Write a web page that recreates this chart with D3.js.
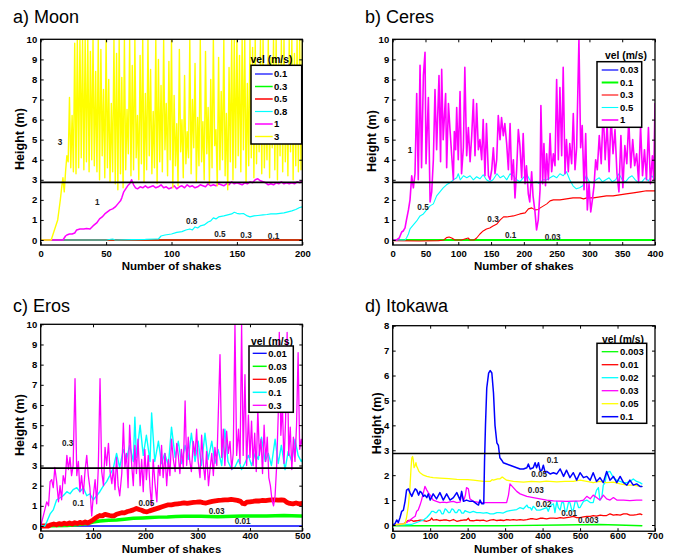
<!DOCTYPE html>
<html><head><meta charset="utf-8">
<script src="https://cdn.jsdelivr.net/npm/d3@7"></script>
<style>
body{margin:0;background:#fff}
svg{display:block;font-family:"Liberation Sans",Arial,Helvetica,sans-serif}
</style>
</head><body>
<script>
// ================= DATA =================
const thresholdHeight = 2.87;

// ---- a) Moon ----
const moonVels = ["0.1","0.3","0.5","0.8","1","3"];
const moon01 = [[0,0],[200,0]];
const moon03 = [[0,0],[200,0]];
const moon05 = [[0,0],[200,0]];
const moon08 = [[0,0],[50,0],[55,0.05],[57,0],[70,0.02],[80,0.03],[88,0.05],[90,0.05],[92,0.2],[95,0.25],[100,0.3],[104,0.38],[108,0.42],[111,0.5],[114,0.55],[116,0.5],[118,0.65],[120,0.6],[122,0.7],[125,0.75],[128,0.9],[130,0.95],[132,1.1],[134,1.05],[136,1.15],[140,1.2],[143,1.25],[146,1.3],[148,1.38],[150,1.33],[152,1.3],[155,1.32],[158,1.2],[160,1.15],[163,1.2],[166,1.22],[170,1.25],[173,1.27],[176,1.3],[180,1.3],[183,1.33],[186,1.35],[189,1.4],[192,1.45],[195,1.52],[198,1.62],[200,1.65]];
const moon1 = [[0,0],[17,0],[18,0.1],[19,0.2],[20,0.25],[22,0.3],[24,0.3],[26,0.35],[27.5,0.5],[30,0.55],[33,0.55],[35,0.57],[37.7,0.55],[40,0.7],[42.8,0.85],[45,1.05],[47,1.15],[49,1.3],[51,1.4],[53,1.5],[55,1.55],[57,1.65],[59,1.8],[61,1.95],[62,2.1],[63.5,2.4],[65,2.55],[66.5,2.7],[68,2.8],[69.5,3.0],[71,2.75],[72.5,2.6],[74,2.55],[76,2.65],[78,2.6],[80,2.7],[82,2.6],[84,2.65],[86,2.7],[88,2.6],[90,2.65],[92,2.75],[94,2.6],[96,2.65],[98,2.55],[100,2.6],[102,2.7],[104,2.55],[106,2.65],[108,2.7],[110,2.6],[112,2.75],[114,2.65],[116,2.7],[118,2.6],[120,2.65],[122,2.75],[124,2.7],[126,2.65],[128,2.8],[130,2.7],[132,2.75],[134,2.7],[136,2.8],[138,2.75],[140,2.7],[142,2.8],[144,2.75],[146,2.9],[148,2.8],[150,2.85],[152,2.8],[154,2.75],[156,2.85],[158,2.8],[160,2.9],[162,2.85],[164,3.0],[166,3.05],[168,2.95],[170,2.9],[172,2.85],[174,2.75],[176,2.8],[178,2.75],[180,2.85],[182,2.8],[184,2.9],[186,2.8],[188,2.85],[190,2.8],[192,2.85],[194,2.8],[196,2.9],[198,2.85],[200,2.95]];
// one height per shake, shakes 0..200
const moon3Heights = [
 0,0,0,0,0,0,0,0,0,0.2,
 0.4,0.6,0.8,1.0,1.5,2.0,2.6,3.1,2.4,3.4,
 4.2,3.9,7.1,3.6,6.2,3.4,9.8,3.3,10,3.6,
 10,4.1,10,3.5,10,3.9,10,3.4,9.4,4.0,
 10,3.7,8.4,3.4,10,3.0,9.5,4.2,7.5,3.1,
 10,3.6,8.0,2.9,6.8,3.4,10,2.8,9.3,2.5,
 10,3.3,8.1,2.6,10,3.5,6.5,4.3,10,3.2,
 8.7,3.5,10,4.1,6.2,3.0,9.2,3.8,10,2.9,
 7.3,3.5,10,4.2,8.5,3.3,6.4,3.6,10,2.8,
 9.0,3.9,7.7,3.4,10,4.5,6.8,3.2,8.9,4.0,
 10,2.6,7.2,3.7,5.8,2.7,9.5,4.4,6.0,3.1,
 8.2,3.8,5.4,4.1,10,3.3,7.0,4.6,8.8,2.9,
 6.1,3.7,10,3.9,5.9,3.0,9.4,4.3,6.6,2.8,
 8.0,3.6,10,4.7,5.5,2.7,9.1,3.5,7.4,4.0,
 10,3.2,6.3,2.5,8.6,3.9,10,3.0,10,3.6,
 10,4.2,9.2,3.4,10,4.5,10,2.9,7.8,3.7,
 10,4.1,9.6,3.1,10,3.8,8.3,4.4,10,3.3,
 10,3.6,7.2,4.0,10,3.1,9.1,4.6,10,3.5,
 10,3.0,8.8,4.2,10,3.4,10,3.9,7.5,3.2,
 10,4.4,10,3.0,9.3,3.7,10,3.4,10,3.5,
 10];
const moon3 = moon3Heights.map((h, i) => [i, h]);
const moonLabelText = ["3","1","0.8","0.5","0.3","0.1"];
const moonLabelAt = [[14.8,4.9],[43.3,1.9],[115.4,0.96],[137,0.28],[157,0.25],[178,0.2]];

// ---- b) Ceres ----
const ceresVels = ["0.03","0.1","0.3","0.5","1"];
const ceres003 = [[0,0],[400,0]];
const ceres01 = [[0,0],[400,0]];
const ceres03 = [[0,-0.03],[40,-0.05],[70,-0.03],[78,0],[82,0.12],[86,0.15],[90,0.1],[95,0],[105,0],[110,0.05],[115,0.1],[118,0],[124,0],[128,0.1],[133,0.3],[138,0.45],[143,0.55],[148,0.6],[153,0.7],[159,0.8],[164,1.0],[169,1.15],[174,1.15],[184,1.2],[194,1.3],[202,1.35],[207,1.55],[212,1.6],[217,1.5],[222,1.52],[225,1.6],[235,1.8],[240,1.95],[245,2.0],[255,2.0],[265,2.05],[275,2.1],[286,2.1],[291,2.05],[296,2.1],[306,2.1],[316,2.15],[326,2.2],[336,2.2],[346,2.25],[356,2.3],[367,2.35],[377,2.4],[387,2.45],[400,2.45]];
const ceres05 = [[0,0],[18.8,0],[21,0.1],[24,0.3],[26.4,0.55],[31.5,0.75],[36.6,0.95],[41.7,1.2],[46.8,1.3],[51.8,1.5],[57,1.7],[62,1.8],[67,2.2],[72,2.4],[77,2.6],[82,2.75],[87.4,2.85],[92.5,3.0],[97.6,3.1],[100,3.3],[103,3.0],[108,3.2],[113,3.1],[118,3.2],[123,3.0],[128,3.15],[133,3.05],[138,3.25],[143,3.0],[148,2.9],[153,3.0],[159,3.3],[164,3.1],[169,3.2],[174,3.0],[179,3.3],[184,3.2],[189,3.0],[194,2.9],[199,3.1],[204,3.3],[209,3.0],[214,2.85],[219,2.9],[224,2.8],[229,3.0],[235,3.0],[240,3.1],[245,3.2],[250,3.1],[255,3.3],[260,3.2],[265,3.4],[270,3.0],[275,2.7],[280,2.55],[285,2.6],[290,2.7],[295,3.2],[300,2.9],[305,2.85],[310,3.0],[315,3.1],[320,2.9],[325,3.0],[330,3.1],[335,2.9],[340,3.0],[345,3.3],[350,3.0],[355,2.9],[360,3.1],[365,3.2],[370,3.0],[375,2.85],[380,2.9],[385,3.1],[390,2.95],[395,3.2],[400,3.0]];
const ceres1 = [[0,0],[6,0],[10,0.1],[13.7,0.4],[16,0.45],[18.8,0.6],[21,1.0],[24,1.5],[26.4,2.0],[29,3.2],[31.5,2.6],[34,3.3],[36.6,7.3],[39,3.0],[41.7,8.7],[44,3.6],[46.8,8.2],[49.3,9.35],[50.8,3.8],[54.4,7.1],[57,1.9],[59.5,2.4],[62,4.0],[64.5,7.5],[67,4.5],[70.6,8.2],[73,3.9],[74.7,8.5],[77,5.0],[80.7,7.3],[82.3,3.6],[85,6.8],[87.4,5.5],[90,4.2],[92.5,3.0],[94,5.4],[96,4.5],[97.6,6.6],[100,4.0],[102.7,7.4],[105,3.3],[107.8,4.6],[110,8.6],[112.8,4.2],[115.4,5.6],[118,3.9],[120.5,5.2],[123,7.0],[125.5,4.2],[128,6.8],[130.6,4.5],[133,5.0],[135.7,4.0],[138,6.0],[140.7,3.2],[143,5.8],[146,3.2],[148.4,3.0],[151,3.5],[153.5,4.6],[156,3.3],[158.6,4.0],[161,6.2],[163.7,5.0],[166,6.1],[168.7,5.2],[171,5.8],[173.8,4.8],[176.4,3.5],[179,5.8],[181.5,3.0],[184,4.0],[186.5,2.1],[189,3.5],[191.6,5.5],[194,4.7],[196.7,3.1],[199,5.3],[201.8,2.8],[204,3.7],[206.8,2.3],[209,1.9],[211.9,3.4],[214,2.2],[217,1.4],[219.4,0.5],[222,1.0],[224.7,2.5],[226,6.7],[228.7,2.8],[230.6,4.8],[233,2.7],[234.8,4.3],[237.4,3.0],[240,5.3],[242.4,3.4],[245,4.3],[247.5,3.7],[250,8.0],[252.6,4.0],[255,7.6],[257.7,4.2],[260,8.6],[262.8,3.3],[265,5.0],[267.8,3.4],[270,4.8],[272.9,3.8],[275.4,6.3],[278,3.5],[280.5,4.6],[284,10],[286.6,4.6],[289,5.7],[291.8,2.5],[294.3,5.3],[296.8,1.5],[299.4,2.8],[302,1.4],[304.5,2.0],[307,2.7],[309.5,4.0],[312,3.5],[315,5.2],[318,3.8],[321,6.5],[324,4.0],[327,5.8],[330,3.4],[333,6.2],[336,4.3],[339,5.5],[342,3.3],[345,2.4],[348,5.2],[351,2.6],[354,4.7],[357,3.8],[360,6.0],[363,3.6],[366,5.0],[369,3.7],[372,4.3],[375,2.9],[378,5.7],[381,3.2],[384,4.5],[387,3.0],[390,5.6],[393,2.8],[396,4.2],[398,3.0],[400,6.8]];
const ceresLabelText = ["1","0.5","0.3","0.1","0.03"];
const ceresLabelAt = [[26.4,4.5],[46.3,1.66],[153,1.03],[180,0.25],[244,0.13]];

// ---- c) Eros ----
const erosVels = ["0.01","0.03","0.05","0.1","0.3"];
const eros001 = [[0,0],[500,0]];
const eros003 = [[0,0],[50,0.02],[70,0.06],[81.5,0.1],[90,0.12],[100,0.2],[113,0.25],[130,0.28],[145,0.3],[160,0.34],[177,0.38],[195,0.4],[210,0.42],[226,0.44],[242,0.45],[258,0.47],[274,0.48],[290,0.48],[306,0.48],[322,0.47],[338,0.46],[354,0.47],[369,0.48],[385,0.49],[400,0.5],[416,0.5],[432,0.5],[448,0.51],[465,0.52],[480,0.51],[496,0.5],[500,0.5]];
const eros005 = [[0,0],[15,0],[18,0.05],[25,0.1],[30,0.06],[35,0.12],[40,0.08],[45,0.14],[50,0.1],[55,0.15],[60,0.1],[65,0.16],[70,0.12],[75,0.18],[80,0.14],[85,0.2],[90,0.15],[95,0.22],[100,0.3],[104,0.38],[108,0.45],[113,0.52],[118,0.5],[123,0.58],[127,0.55],[132,0.52],[136,0.5],[140,0.5],[145,0.58],[150,0.62],[155,0.66],[160,0.65],[166,0.72],[171,0.75],[177,0.8],[183,0.87],[188,0.82],[193,0.78],[198,0.72],[203,0.7],[208,0.75],[214,0.8],[220,0.85],[226,0.9],[232,0.95],[238,1.0],[244,1.05],[250,1.05],[256,1.08],[262,1.1],[268,1.12],[274,1.15],[280,1.12],[286,1.15],[292,1.17],[298,1.18],[304,1.2],[310,1.16],[316,1.14],[322,1.18],[328,1.22],[334,1.25],[340,1.27],[346,1.28],[352,1.3],[358,1.3],[364,1.32],[370,1.3],[376,1.27],[382,1.22],[386,1.12],[390,1.1],[394,1.18],[400,1.2],[406,1.22],[412,1.25],[418,1.24],[424,1.27],[430,1.26],[436,1.28],[442,1.3],[448,1.3],[454,1.28],[460,1.3],[465,1.28],[470,1.18],[476,1.12],[482,1.1],[488,1.14],[494,1.1],[500,1.12]];
const eros01 = [[0,0],[8,0],[11.5,0.2],[18,0.6],[24,0.8],[30.5,1.3],[37,1.4],[43,1.5],[50,1.7],[56,1.6],[62,1.8],[69,1.9],[75,1.7],[81.5,1.9],[88,1.5],[94,1.6],[100.6,1.3],[107,1.5],[113,1.7],[120,2.0],[126,2.2],[132,2.5],[139,2.9],[145,3.6],[151,2.9],[158,3.8],[164,3.3],[170,4.0],[177,3.2],[180,5.4],[183,3.4],[190,5.0],[196,3.5],[202,4.5],[209,3.2],[212,5.6],[218,3.2],[225,4.2],[231,3.1],[237,3.6],[244,3.0],[250,4.9],[257,3.4],[263,4.2],[269,3.1],[276,4.0],[282,3.3],[288,4.6],[295,3.2],[301,4.2],[307,3.0],[314,4.6],[320,3.3],[327,4.2],[333,3.1],[339,3.8],[346,3.0],[352,4.8],[358,3.2],[365,2.8],[371,2.9],[378,3.3],[384,2.8],[390,3.1],[397,3.5],[403,3.0],[410,3.6],[416,3.3],[422,4.4],[429,3.2],[435,3.6],[441,3.0],[448,4.3],[454,3.1],[460,4.0],[467,2.8],[473,3.7],[480,3.2],[486,4.3],[492,3.5],[498,3.2],[500,3.3]];
const eros03 = [[0,0],[5,0.5],[11.5,1.2],[15,1.0],[18,2.2],[21,2.3],[24,1.9],[27,2.9],[30.5,2.2],[34,1.2],[37,2.0],[40,1.3],[43,2.5],[46.5,2.1],[50,3.5],[53,2.8],[56,3.4],[59,2.5],[62,3.0],[65.6,7.3],[69,2.5],[72,3.2],[75,1.7],[78,2.5],[81.5,1.6],[85,2.8],[88,3.5],[91,2.5],[94,1.9],[97.5,0.5],[100.6,1.5],[104,2.3],[107,1.1],[110,2.8],[113.4,7.3],[116.6,2.7],[120,2.0],[123,3.9],[126,3.0],[129.5,4.1],[132.6,2.7],[136,2.1],[139,2.9],[142,1.8],[145,3.4],[148,2.0],[151,1.5],[155,2.6],[158,5.1],[161,2.9],[164,3.6],[167,1.9],[170,5.0],[174,3.0],[177,2.0],[180,4.0],[183,2.6],[186,4.3],[190,2.0],[193,3.3],[196,1.7],[199,3.8],[202,2.3],[205.6,3.5],[209,1.9],[212,1.0],[215,3.3],[218.5,2.1],[222,1.2],[225,3.0],[228,2.5],[231,4.0],[234,2.4],[237.6,3.6],[240.8,2.0],[244,3.3],[247,2.5],[250,4.3],[253.5,3.3],[257,2.7],[260,4.1],[263,3.5],[266,2.6],[269,3.8],[272.6,2.9],[276,6.2],[279,3.0],[282,4.4],[285,3.2],[288,2.7],[291.7,4.2],[295,3.5],[298,4.8],[301,3.2],[304.5,2.4],[307.6,4.5],[311,3.0],[314,2.3],[317,3.7],[320.7,2.0],[324,2.9],[327,3.6],[330,2.5],[333,3.9],[336.6,3.0],[339.5,5.6],[342.7,8.5],[346,3.4],[349,4.8],[352,3.0],[355.4,4.7],[358.6,3.6],[361.8,4.2],[365,2.8],[368,3.6],[371.3,10],[374.5,3.5],[378,4.8],[381,3.1],[384,10],[387,3.5],[390.4,7.5],[393.6,3.0],[397,5.5],[400,3.4],[403,5.2],[406,3.0],[409,4.6],[412,2.7],[415,5.8],[418,3.5],[421,4.3],[424,2.6],[427,5.0],[430,3.2],[433,4.4],[436,2.4],[439,2.0],[442,1.3],[445,1.0],[448,1.5],[451,3.0],[454,5.5],[456,9.6],[459,4.5],[462,6.0],[465,3.1],[468,5.2],[471,9.6],[474,3.5],[477,4.9],[480,2.8],[483,4.4],[486,3.2],[489,5.0],[492,8.6],[495,3.8],[498,4.3],[500,4.0]];
const erosLabelText = ["0.3","0.1","0.05","0.03","0.01"];
const erosLabelAt = [[51.6,4.13],[71.9,1.12],[202,1.15],[336.4,0.76],[386,0.25]];

// ---- d) Itokawa ----
const itoVels = ["0.003","0.01","0.02","0.03","0.05","0.1"];
const ito0003 = [[0,-0.03],[300,-0.03],[450,0],[550,0.02],[600,0],[665,-0.03]];
const ito001 = [[0,0],[19.6,0],[28.5,0.05],[37,0.12],[41,0.18],[46,0.17],[50,0.2],[55,0.15],[64,0.17],[73,0.2],[82,0.18],[91,0.15],[100,0.2],[104,0.28],[108,0.2],[117,0.22],[126,0.18],[135,0.2],[144,0.2],[153,0.17],[162,0.22],[171,0.15],[180,0.18],[189,0.2],[197,0.2],[202,0.27],[206,0.18],[215,0.17],[224,0.2],[233,0.18],[242,0.2],[251,0.15],[260,0.2],[269,0.22],[278,0.18],[286,0.2],[296,0.18],[304,0.22],[313,0.2],[322,0.22],[331,0.2],[340,0.22],[349,0.2],[358,0.22],[367,0.25],[375,0.25],[384,0.23],[393,0.27],[402,0.27],[411,0.25],[420,0.28],[429,0.28],[438,0.27],[447,0.3],[456,0.28],[464,0.3],[473,0.32],[482,0.35],[491,0.3],[500,0.3],[509,0.33],[518,0.35],[527,0.35],[535,0.38],[544,0.36],[554,0.4],[562,0.38],[571,0.38],[580,0.45],[589,0.4],[598,0.42],[607,0.4],[616,0.45],[625,0.45],[633,0.4],[642,0.4],[651,0.42],[660,0.45],[665,0.42]];
const ito002 = [[0,0],[50,0.02],[64,0.1],[73,0.15],[82,0.2],[91,0.3],[100,0.45],[104,0.55],[108,0.55],[113,0.5],[117,0.5],[122,0.6],[126,0.6],[131,0.45],[135,0.45],[140,0.65],[144,0.6],[149,0.5],[153,0.5],[158,0.65],[162,0.62],[167,0.5],[171,0.5],[176,0.62],[180,0.6],[184,0.48],[189,0.48],[193,0.58],[197,0.55],[206,0.5],[215,0.55],[224,0.5],[233,0.5],[242,0.48],[251,0.5],[260,0.45],[269,0.45],[278,0.5],[286,0.5],[295,0.48],[304,0.55],[313,0.58],[322,0.6],[331,0.62],[340,0.7],[349,0.65],[358,0.8],[362,0.7],[367,0.7],[371,0.6],[375,0.75],[380,0.68],[384,0.6],[393,0.6],[402,0.65],[411,0.7],[415,0.55],[420,0.75],[424,0.8],[429,0.85],[433,0.5],[438,0.95],[442,0.7],[447,0.6],[451,0.9],[456,0.9],[460,0.55],[464,0.55],[469,0.9],[473,0.9],[478,0.6],[482,0.6],[487,0.95],[491,0.95],[496,0.7],[500,0.7],[509,0.95],[518,1.0],[527,0.9],[535,0.9],[540,1.2],[544,1.4],[549,1.5],[553,1.0],[558,1.1],[562,1.6],[567,1.7],[571,2.1],[580,2.15],[589,1.9],[598,1.8],[607,1.75],[616,1.7],[625,1.7],[633,1.75],[642,1.85],[651,1.75],[660,1.7],[665,1.65]];
const ito003 = [[0,0],[28.5,0.05],[37,0.1],[46,0.2],[55,0.3],[60,0.35],[64,0.55],[68,0.6],[73,0.8],[77,1.0],[82,1.3],[86,1.55],[91,1.4],[95,1.3],[100,1.2],[108,1.0],[117,0.95],[126,0.9],[135,0.92],[144,0.9],[153,0.93],[162,0.95],[171,0.9],[180,0.92],[184,1.3],[189,0.95],[194,1.2],[197,1.5],[202,1.45],[206,1.05],[215,0.95],[233,0.9],[251,0.9],[269,0.9],[286,0.9],[304,0.9],[309,1.2],[313,1.65],[322,1.5],[331,1.35],[340,1.25],[358,1.15],[375,1.1],[393,1.05],[411,1.0],[429,0.97],[447,0.96],[464,0.95],[482,0.96],[500,0.97],[509,1.0],[518,1.15],[527,1.05],[535,1.2],[544,1.1],[553,1.0],[562,1.2],[571,1.05],[580,1.0],[589,1.1],[598,1.0],[616,1.0],[633,0.98],[651,1.0],[665,1.0]];
const ito005 = [[0,0],[33,0.05],[37,0.3],[42,0.8],[46,1.5],[49,2.3],[51,2.7],[53,2.75],[55,2.6],[57,2.3],[60,2.4],[62,2.5],[64,2.35],[66,2.3],[70,2.15],[73,2.1],[82,2.0],[91,1.95],[100,1.92],[108,1.9],[126,1.88],[150,1.86],[171,1.83],[200,1.82],[215,1.8],[242,1.75],[260,1.75],[265,1.82],[269,1.8],[280,1.85],[286,1.85],[292,1.93],[295,1.9],[304,1.8],[322,1.75],[349,1.72],[370,1.75],[393,1.73],[410,1.76],[438,1.73],[460,1.75],[482,1.75],[500,1.8],[518,1.75],[535,1.7],[553,1.75],[571,1.7],[589,1.72],[607,1.65],[625,1.6],[642,1.6],[660,1.55],[665,1.55]];
const ito01 = [[0,0],[6,0.05],[10.7,0.2],[15,0.1],[19.6,0.3],[24,0.55],[28.5,0.6],[33,0.95],[37,1.4],[42,1.45],[46,1.3],[51,1.15],[55,1.3],[60,1.45],[64,1.4],[69,1.2],[73,1.35],[77,1.3],[82,1.15],[86,1.2],[91,1.1],[95,1.25],[100,1.0],[108,1.25],[117,1.05],[126,1.3],[135,1.0],[144,1.25],[153,1.0],[162,1.1],[171,1.3],[180,1.0],[184,1.35],[189,0.95],[197,1.0],[206,0.95],[215,0.95],[224,0.85],[229,0.8],[233,1.0],[238,0.85],[243,0.85],[245,2.5],[247.6,4.0],[251,5.5],[256,6.1],[260,6.2],[264.6,6.1],[269,5.3],[273,4.0],[278,3.3],[282,3.2],[286,2.7],[291,2.6],[295,2.5],[304,2.45],[313,2.4],[322,2.35],[331,2.3],[340,2.25],[349,2.25],[358,2.3],[362,2.45],[367,2.25],[375,2.3],[380,2.5],[384,2.3],[389,2.5],[393,2.2],[398,2.2],[402,2.4],[407,2.1],[411,2.15],[420,2.05],[429,2.1],[438,2.05],[447,2.25],[456,1.95],[464,2.2],[473,1.9],[482,2.1],[491,1.8],[500,2.1],[509,1.9],[518,1.95],[527,1.8],[535,2.1],[544,1.75],[553,1.9],[562,1.7],[571,2.15],[580,1.8],[589,1.95],[598,1.7],[607,1.95],[616,1.7],[625,1.6],[633,1.8],[642,1.6],[651,1.65],[660,1.55],[665,1.55]];
const itoLabelText = ["0.1","0.05","0.03","0.02","0.01","0.003"];
const itoLabelAt = [[426,2.61],[391,2.04],[382,1.41],[403,0.84],[471,0.47],[522,0.18]];

// ================= LAYOUT / STYLE =================
const C = {blue:"#0000ff", green:"#00ff00", red:"#ff0000", cyan:"#00ffff", magenta:"#ff00ff", yellow:"#ffff00"};
const yTicks10 = d3.range(0, 11);
const yTicks8 = d3.range(0, 9);

const panels = [
  {id:"a", title:"a) Moon", titleX:13, titleY:22.7,
   left:40.7, right:302.3, top:39.3, zeroY:240, yMax:10, yMin:-0.25, xMax:200,
   xTicks:[0,50,100,150,200], yTicks:yTicks10, xTickPad:5, xLabelY:266, yLabelX:19.3, yLabelY:139,
   legend:{x:251, y:65.3, w:50.7, h:78.7, titleX:271.5, titleY:62.5, row0:74, step:12.5, l0:255, l1:272.7, tx:274},
   vels:moonVels,
   series:[{d:moon01,c:C.blue,w:1.2},{d:moon03,c:C.green,w:1.5},{d:moon05,c:C.red,w:1.5},{d:moon08,c:C.cyan,w:1.2},{d:moon1,c:C.magenta,w:1.5},{d:moon3,c:C.yellow,w:1.4}],
   labelText:moonLabelText, labelAt:moonLabelAt},
  {id:"b", title:"b) Ceres", titleX:365, titleY:22.7,
   left:392.7, right:655, top:39.3, zeroY:240, yMax:10, yMin:-0.25, xMax:400,
   xTicks:d3.range(0,401,50), yTicks:yTicks10, xTickPad:5, xLabelY:266, yLabelX:371.7, yLabelY:141,
   legend:{x:597, y:61.7, w:44.7, h:65.6, titleX:626, titleY:59, row0:70, step:12.5, l0:601.7, l1:618.3, tx:620},
   vels:ceresVels,
   series:[{d:ceres003,c:C.blue,w:1.2},{d:ceres01,c:C.green,w:2},{d:ceres03,c:C.red,w:1.1},{d:ceres05,c:C.cyan,w:1.1},{d:ceres1,c:C.magenta,w:1.6}],
   labelText:ceresLabelText, labelAt:ceresLabelAt},
  {id:"c", title:"c) Eros", titleX:13, titleY:311.7,
   left:40.7, right:302.3, top:324.3, zeroY:526, yMax:10, yMin:-0.25, xMax:500,
   xTicks:d3.range(0,501,100), yTicks:yTicks10, xTickPad:1.5, xLabelY:548.5, yLabelX:19.3, yLabelY:425,
   legend:{x:249, y:346, w:44.3, h:66.3, titleX:272, titleY:344.5, row0:353.3, step:13, l0:252.7, l1:266.7, tx:268.3},
   vels:erosVels,
   series:[{d:eros001,c:C.blue,w:1.3},{d:eros003,c:C.green,w:3.5},{d:eros005,c:C.red,w:4.8},{d:eros01,c:C.cyan,w:1.4},{d:eros03,c:C.magenta,w:1.3}],
   legendW:[1.3,1.5,1.3,1.5,1.3],
   labelText:erosLabelText, labelAt:erosLabelAt},
  {id:"d", title:"d) Itokawa", titleX:365, titleY:311.7,
   left:392.7, right:655, top:325.7, zeroY:525, yMax:8, yMin:-0.25, xMax:700,
   xTicks:d3.range(0,701,100), yTicks:yTicks8, xTickPad:1.5, xLabelY:548.5, yLabelX:376.7, yLabelY:423.3,
   legend:{x:597, y:343.3, w:49.7, h:80, titleX:623, titleY:342.5, row0:351.7, step:13, l0:601.7, l1:618.3, tx:620},
   vels:itoVels,
   series:[{d:ito0003,c:C.green,w:1.3},{d:ito001,c:C.red,w:1.3},{d:ito002,c:C.cyan,w:1.3},{d:ito003,c:C.magenta,w:1.3},{d:ito005,c:C.yellow,w:1.3},{d:ito01,c:C.blue,w:1.5}],
   labelText:itoLabelText, labelAt:itoLabelAt}
];

// ================= DRAW =================
const svg = d3.select("body").append("svg").attr("width", 678).attr("height", 559);
const defs = svg.append("defs");

panels.forEach(p => {
  const g = svg.append("g");
  const x = d3.scaleLinear().domain([0, p.xMax]).range([p.left, p.right]);
  const y = d3.scaleLinear().domain([0, p.yMax]).range([p.zeroY, p.top]);
  const bottom = y(p.yMin);

  defs.append("clipPath").attr("id", "clip-" + p.id)
    .append("rect").attr("x", p.left).attr("y", p.top)
    .attr("width", p.right - p.left).attr("height", bottom - p.top);

  // title
  g.append("text").attr("x", p.titleX).attr("y", p.titleY)
    .attr("font-size", 18).attr("fill", "#000").text(p.title);

  const line = d3.line().x(d => x(d[0])).y(d => y(d[1]));
  const dg = g.append("g").attr("clip-path", `url(#clip-${p.id})`);
  p.series.forEach(s => {
    dg.append("path").attr("d", line(s.d)).attr("fill", "none")
      .attr("stroke", s.c).attr("stroke-width", s.w)
      .attr("stroke-linejoin", "round").attr("stroke-linecap", "round");
  });
  // threshold line
  dg.append("line").attr("x1", p.left).attr("x2", p.right)
    .attr("y1", y(thresholdHeight)).attr("y2", y(thresholdHeight))
    .attr("stroke", "#000").attr("stroke-width", 1.6);

  // curve labels
  p.labelText.forEach((t, i) => {
    g.append("text").attr("x", x(p.labelAt[i][0])).attr("y", y(p.labelAt[i][1]))
      .attr("dy", "0.35em").attr("text-anchor", "middle")
      .attr("font-size", 8.2).attr("font-weight", "bold").attr("fill", "#222").text(t);
  });

  // axes
  const styleAxis = sel => {
    sel.select(".domain").remove();
    sel.selectAll(".tick line").attr("stroke", "#000").attr("stroke-width", 1);
    sel.selectAll(".tick text").attr("font-size", 9.5).attr("font-weight", "bold")
      .attr("font-family", '"Liberation Sans",Arial,sans-serif').attr("fill", "#000");
  };
  g.append("g").attr("transform", `translate(0,${bottom})`)
    .call(d3.axisBottom(x).tickValues(p.xTicks).tickSizeInner(-3).tickSizeOuter(0).tickPadding(p.xTickPad).tickFormat(d3.format("d")))
    .call(styleAxis);
  g.append("g").attr("transform", `translate(0,${p.top})`)
    .call(d3.axisTop(x).tickValues(p.xTicks).tickSizeInner(-3).tickSizeOuter(0).tickFormat(""))
    .call(styleAxis);
  g.append("g").attr("transform", `translate(${p.left},0)`)
    .call(d3.axisLeft(y).tickValues(p.yTicks).tickSizeInner(-3).tickSizeOuter(0).tickPadding(3.5).tickFormat(d3.format("d")))
    .call(styleAxis);
  g.append("g").attr("transform", `translate(${p.right},0)`)
    .call(d3.axisRight(y).tickValues(p.yTicks).tickSizeInner(-3).tickSizeOuter(0).tickFormat(""))
    .call(styleAxis);

  // box
  g.append("rect").attr("x", p.left).attr("y", p.top)
    .attr("width", p.right - p.left).attr("height", bottom - p.top)
    .attr("fill", "none").attr("stroke", "#000").attr("stroke-width", 1.3);

  // axis labels
  g.append("text").attr("x", (p.left + p.right) / 2).attr("y", p.xLabelY).attr("dy", "0.35em")
    .attr("text-anchor", "middle").attr("font-size", 11.5).attr("font-weight", "bold")
    .text("Number of shakes");
  g.append("text").attr("transform", `translate(${p.yLabelX},${p.yLabelY}) rotate(-90)`)
    .attr("dy", "0.35em").attr("text-anchor", "middle").attr("font-size", 12.5).attr("font-weight", "bold")
    .text("Height (m)");

  // legend
  const L = p.legend;
  g.append("text").attr("x", L.titleX).attr("y", L.titleY).attr("text-anchor", "middle")
    .attr("font-size", 10.3).attr("font-weight", "bold").text("vel (m/s)");
  g.append("rect").attr("x", L.x).attr("y", L.y).attr("width", L.w).attr("height", L.h)
    .attr("fill", "#fff").attr("stroke", "#000").attr("stroke-width", 1.5);
  p.vels.forEach((v, i) => {
    const ry = L.row0 + i * L.step;
    const s = p.series[i];
    const lw = p.legendW ? p.legendW[i] : Math.min(s.w, 2);
    g.append("line").attr("x1", L.l0).attr("x2", L.l1).attr("y1", ry).attr("y2", ry)
      .attr("stroke", s.c).attr("stroke-width", lw);
    g.append("text").attr("x", L.tx).attr("y", ry).attr("dy", "0.35em")
      .attr("font-size", 9.5).attr("font-weight", "bold").text(v);
  });
});
</script>
</body></html>
